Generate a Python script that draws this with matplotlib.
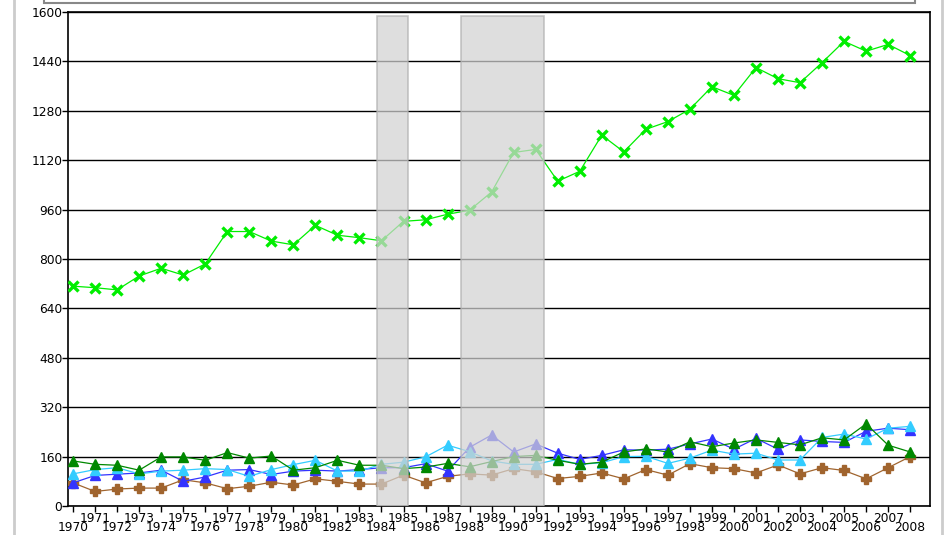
import matplotlib.pyplot as plt
import matplotlib.patches as mpatches
import numpy as np

years = np.arange(1970, 2009)

# light green series (top)
total = [712, 707, 700, 745, 770, 748, 784, 889, 889, 858, 846, 909, 877, 869, 859,
         922, 927, 945, 958, 1017, 1145, 1155, 1052, 1084, 1201, 1147, 1220, 1245, 1285,
         1358, 1330, 1420, 1384, 1371, 1436, 1505, 1473, 1495, 1459]

green = [146, 135, 132, 116, 159, 159, 148, 173, 155, 162, 116, 124, 148, 132, 132,
         121, 126, 138, 127, 144, 160, 164, 148, 135, 142, 175, 185, 175, 208, 192,
         204, 214, 206, 198, 221, 214, 266, 197, 175]
cyan = [104, 118, 124, 104, 113, 116, 121, 118, 96, 118, 134, 148, 113, 113, 135,
        142, 159, 197, 176, 146, 135, 135, 151, 135, 140, 160, 161, 138, 155, 181,
        168, 171, 149, 149, 222, 233, 217, 252, 258]
blue = [75, 99, 103, 107, 116, 80, 94, 116, 118, 102, 113, 116, 113, 118, 124,
        124, 137, 113, 190, 230, 175, 201, 171, 151, 164, 182, 181, 184, 201, 217,
        184, 219, 184, 214, 209, 206, 242, 252, 247]
brown = [75, 47, 55, 58, 58, 85, 75, 56, 64, 77, 68, 88, 80, 71, 71,
         100, 75, 96, 104, 100, 121, 111, 89, 96, 107, 88, 118, 100, 137, 124,
         121, 107, 133, 104, 124, 115, 88, 124, 160]

# shaded periods
bands = [(1983.8, 1985.2), (1987.6, 1991.4)]

fig = plt.figure(figsize=(9.45, 5.35), dpi=100)
ax = fig.add_axes([68/945, 29/535, 862/945, 494/535])

ax.plot(years, total, color='#00ee00', lw=0.9, marker='x', ms=6.5, mew=2.4, zorder=3)
ax.plot(years, brown, color='#a0642e', lw=0.9, marker='P', ms=6.5, mec='#a0642e', zorder=3)
ax.plot(years, blue, color='#3333ff', lw=0.9, marker='^', ms=7.5, zorder=3)
ax.plot(years, cyan, color='#33ccff', lw=0.9, marker='^', ms=7.5, zorder=3)
ax.plot(years, green, color='#008800', lw=0.9, marker='^', ms=7.5, zorder=3)

for x0, x1 in bands:
    ax.add_patch(mpatches.Rectangle((x0, 0), x1 - x0, 1586, facecolor='#d2d2d2',
                                    edgecolor='#b0b0b0', lw=1.2, alpha=0.72, zorder=4))

ax.set_xlim(1969.77, 2008.9)
ax.set_ylim(0, 1600)
ax.set_yticks(np.arange(0, 1601, 160))
ax.yaxis.grid(True, color='black', lw=1)
ax.set_axisbelow(True)

# odd years on the upper row, even years on the lower row
odd = years[years % 2 == 1]
even = years[years % 2 == 0]
ax.set_xticks(odd)
ax.set_xticklabels([str(y) for y in odd])
ax.set_xticks(even, minor=True)
ax.set_xticklabels([str(y) for y in even], minor=True)
ax.tick_params(axis='both', which='both', labelsize=8.8, length=4, width=1, pad=0)
ax.tick_params(axis='x', which='minor', pad=7)
for s in ax.spines.values():
    s.set_linewidth(1.2)

# surrounding frame bits
fig.add_artist(mpatches.Rectangle((44/945, 1 - 3/535), 871/945, 10/535, transform=fig.transFigure,
                                  facecolor='white', edgecolor='#888888', lw=1.5))
fig.add_artist(plt.Line2D([14/945, 14/945], [0, 1], color='#cccccc', lw=2))
fig.add_artist(plt.Line2D([942/945, 942/945], [0, 1], color='#cccccc', lw=2))

fig.savefig('out.png', dpi=100)
